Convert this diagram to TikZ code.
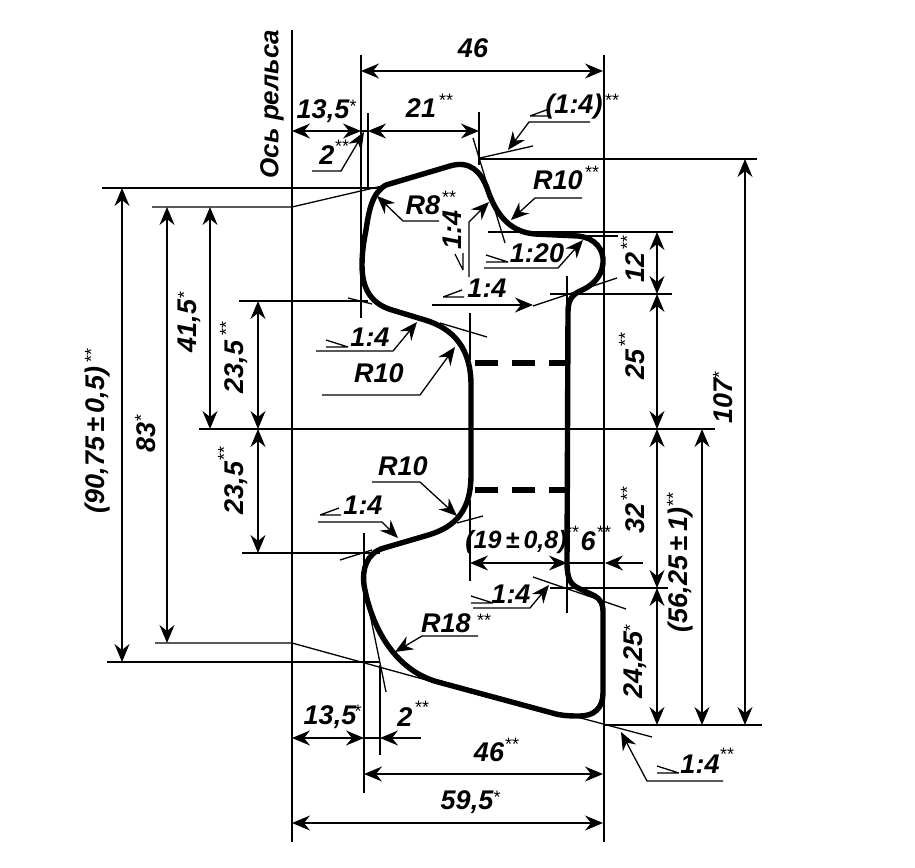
\documentclass[tikz,border=0pt]{standalone}
\usepackage{fontspec}
\setmainfont{Liberation Sans}
\usetikzlibrary{arrows.meta}
\newcommand\slopeL[2]{\draw[thin line] (#1,#2) -- ++(21,0) (#1,#2) -- ++(19,-7);}
\newcommand\slopeR[2]{\draw[thin line] (#1,#2) -- ++(22,0) (#1,#2) ++(0,-7) -- ++(22,7);}
\tikzset{
  thin line/.style={draw=black,line width=1.3pt},
  tip/.tip={Stealth[length=18pt,width=15pt,inset=6pt]},
  dim/.style={thin line,tip-tip},
  lead/.style={thin line,-tip},
  prof/.style={line width=5.4pt,line join=round,draw=black},
  lab/.style={font=\fontsize{27}{27}\selectfont\bfseries\itshape,inner sep=0pt},
  rlab/.style={lab,rotate=90},
  star/.style={font=\fontsize{18}{18}\selectfont,inner sep=0pt,yshift=-10.4pt,anchor=base},
  rstar/.style={font=\fontsize{18}{18}\selectfont,inner sep=0pt,xshift=10.4pt,rotate=90,anchor=base},
}
\begin{document}
\begin{tikzpicture}[x=1pt,y=-1pt]
\useasboundingbox[fill=white] (0,0) rectangle (915,867);
% extension lines
\draw[thin line] (292,30) -- (292,842);
\draw[thin line] (604,55) -- (604,842);
\draw[thin line] (361,55) -- (361,318);
\draw[thin line] (364,533) -- (364,793);
\draw[thin line] (368,113) -- (368,188);
\draw[thin line] (380,665) -- (380,755);
\draw[thin line] (479,112) -- (479,165);
\draw[thin line] (480,159) -- (757,159);
\draw[thin line] (102,188) -- (382,188);
\draw[thin line] (152,207) -- (292,207) -- (382,186);
\draw[thin line] (480,158) -- (533,146);
\draw[thin line] (473,138) -- (505,243);
\draw[thin line] (488,232) -- (673,232);
\draw[thin line] (583,236) -- (618,236);
\draw[thin line] (550,294) -- (672,294);
\draw[thin line] (567,276) -- (567,305);
\draw[thin line] (533,306) -- (617,278);
\draw[thin line] (239,301) -- (368,301);
\draw[thin line] (348,298) -- (372,304);
\draw[thin line] (440,323) -- (487,337);
\draw[thin line] (470,313) -- (470,360);
\draw[thin line] (199,429) -- (715,429);
\draw[thin line] (242,553) -- (380,553);
\draw[thin line] (340,560) -- (372,550);
\draw[thin line] (457,523) -- (483,516);
\draw[thin line] (470,500) -- (470,581);
\draw[thin line] (533,577) -- (626,609);
\draw[thin line] (550,588) -- (668,588);
\draw[thin line] (567,560) -- (567,613);
\draw[thin line] (155,643) -- (292,643) -- (430,681);
\draw[thin line] (577,717) -- (652,737);
\draw[thin line] (107,662) -- (380,662);
\draw[thin line] (365,590) -- (386,692);
\draw[thin line] (604,725) -- (762,725);
% profile
\draw[prof] (362,265) .. controls (362,252) and (364,240) .. (366,230)
 .. controls (369,210) and (372,193) .. (386,185)
 -- (450,166)
 .. controls (470,160) and (481,172) .. (487,188)
 .. controls (495,212) and (508,232) .. (535,234)
 -- (578,236)
 .. controls (596,238) and (604,250) .. (603,263)
 .. controls (602,278) and (590,287) .. (580,291)
 .. controls (572,295) and (568,300) .. (568,312)
 -- (567,562)
 .. controls (567,578) and (570,584) .. (578,588)
 -- (595,596)
 .. controls (601,600) and (603,604) .. (603,612)
 -- (603,693)
 .. controls (603,708) and (594,716) .. (580,716)
 .. controls (572,716) and (565,716) .. (556,714)
 -- (438,682)
 .. controls (400,672) and (373,635) .. (364,585)
 .. controls (362,570) and (366,553) .. (384,548)
 -- (425,536)
 .. controls (450,529) and (471,516) .. (471,475)
 -- (471,385)
 .. controls (471,350) and (455,329) .. (425,320)
 -- (392,310)
 .. controls (372,304) and (362,290) .. (362,265) -- cycle;
\draw[prof,dash pattern=on 23pt off 14pt] (475,363) -- (567,363);
\draw[prof,dash pattern=on 23pt off 14pt] (475,490) -- (567,490);
% horizontal dimensions
\draw[dim] (361,71) -- (603,71);
\draw[dim] (292,131) -- (361,131);
\draw[thin line] (361,131) -- (368,131);
\draw[dim] (368,131) -- (479,131);
\draw[dim] (470,563) -- (567,563);
\draw[lead] (643,563) -- (605,563);
\draw[thin line] (567,563) -- (605,563);
\draw[dim] (292,738) -- (364,738);
\draw[thin line] (364,738) -- (380,738);
\draw[lead] (421,738) -- (380,738);
\draw[dim] (364,774) -- (603,774);
\draw[dim] (292,823) -- (603,823);
% vertical dimensions
\draw[dim] (657,232) -- (657,294);
\draw[dim] (657,294) -- (657,429);
\draw[dim] (657,429) -- (657,588);
\draw[dim] (657,588) -- (657,725);
\draw[dim] (702,429) -- (702,725);
\draw[dim] (745,159) -- (745,725);
\draw[dim] (122,188) -- (122,662);
\draw[dim] (167,207) -- (167,643);
\draw[dim] (210,207) -- (210,429);
\draw[dim] (258,301) -- (258,429);
\draw[dim] (258,429) -- (258,553);
% leaders
\draw[lead] (312,171) -- (341,171) -- (364,132);
\draw[lead] (590,122) -- (529,122) -- (508,150);
\draw[lead] (582,198) -- (535,198) -- (511,220);
\draw[lead] (439,221) -- (403,221) -- (377,196);
\draw[lead] (469,277) -- (469,222) -- (489,202);
\draw[lead] (484,268) -- (558,268) -- (583,240);
\draw[lead] (432,305) -- (533,305);
\draw[lead] (316,351) -- (393,351) -- (417,322);
\draw[lead] (322,395) -- (420,395) -- (455,347);
\draw[lead] (372,482) -- (420,482) -- (457,516);
\draw[lead] (318,522) -- (382,522) -- (398,538);
\draw[lead] (473,608) -- (530,608) -- (549,585);
\draw[lead] (478,636) -- (422,636) -- (395,652);
\draw[lead] (723,781) -- (647,781) -- (621,732);
% slope signs
\slopeL{530}{116}
\slopeR{486}{262}
\slopeL{443}{297}
\slopeR{326}{347}
\slopeL{320}{515}
\slopeR{471}{603}
\slopeR{657}{773}
\draw[thin line] (463,270) -- (463,253) (463,270) -- (455,254);
% labels
\node[lab,rotate=90,font=\fontsize{26}{26}\selectfont\bfseries\itshape] (axis) at (272,104) {Ось рельса};
\node[lab] (t46) at (473,48) {46};
\node[lab] (t135a) at (323,111) {13,5};
\node[star] at (353,102) {*};
\node[lab] (t21) at (421,108) {21};
\node[star] at (446,96) {**};
\node[lab] (t2a) at (327,155) {2};
\node[star] at (342,142) {**};
\node[lab] (t14a) at (574,107) {(1:4)};
\node[star] at (612,96) {**};
\node[lab] (tr10a) at (558,180) {R10};
\node[star] at (592,168) {**};
\node[lab] (tr8) at (423,205) {R8};
\node[star] at (449,193) {**};
\node[rlab] (t14b) at (452,230) {1:4};
\node[lab] (t120) at (537,253) {1:20};
\node[lab] (t14c) at (487,288) {1:4};
\node[lab] (t14d) at (370,337) {1:4};
\node[lab] (tr10b) at (379,373) {R10};
\node[lab] (tr10c) at (403,466) {R10};
\node[lab] (t14e) at (363,505) {1:4};
\node[lab,font=\fontsize{25}{25}\selectfont\bfseries\itshape] (t19) at (516,542) {(19\,±\,0,8)};
\node[star] at (572,528) {**};
\node[lab] (t6) at (588,541) {6};
\node[star] at (604,528) {**};
\node[lab] (t14f) at (511,594) {1:4};
\node[lab] (tr18) at (446,623) {R18};
\node[star] at (484,616) {**};
\node[lab] (t135b) at (330,717) {13,5};
\node[star] at (358,707) {*};
\node[lab] (t2b) at (405,717) {2};
\node[star] at (422,703) {**};
\node[lab] (t46b) at (489,752) {46};
\node[star] at (512,740) {**};
\node[lab] (t595) at (467,802) {59,5};
\node[star] at (497,793) {*};
\node[lab] (t14g) at (700,764) {1:4};
\node[star] at (727,750) {**};
\node[rlab] (t12) at (635,267) {12};
\node[rstar] at (623,242) {**};
\node[rlab] (t25) at (635,364) {25};
\node[rstar] at (621,339) {**};
\node[rlab] (t32) at (635,518) {32};
\node[rstar] at (623,493) {**};
\node[rlab] (t5625) at (681,570) {(56,25\,±\,1)};
\node[rstar] at (669,499) {**};
\node[rlab] (t2425) at (635,665) {24,25};
\node[rstar] at (626,628) {*};
\node[rlab] (t107) at (723,401) {107};
\node[rstar] at (715,375) {*};
\node[rlab] (t9075) at (98,440) {(90,75\,±\,0,5)};
\node[rstar] at (87,355) {**};
\node[rlab] (t83) at (146,437) {83};
\node[rstar] at (137,418) {*};
\node[rlab] (t415) at (189,326) {41,5};
\node[rstar] at (180,295) {*};
\node[rlab] (t235a) at (236,367) {23,5};
\node[rstar] at (222,328) {**};
\node[rlab] (t235b) at (236,488) {23,5};
\node[rstar] at (220,453) {**};
\end{tikzpicture}
\end{document}
